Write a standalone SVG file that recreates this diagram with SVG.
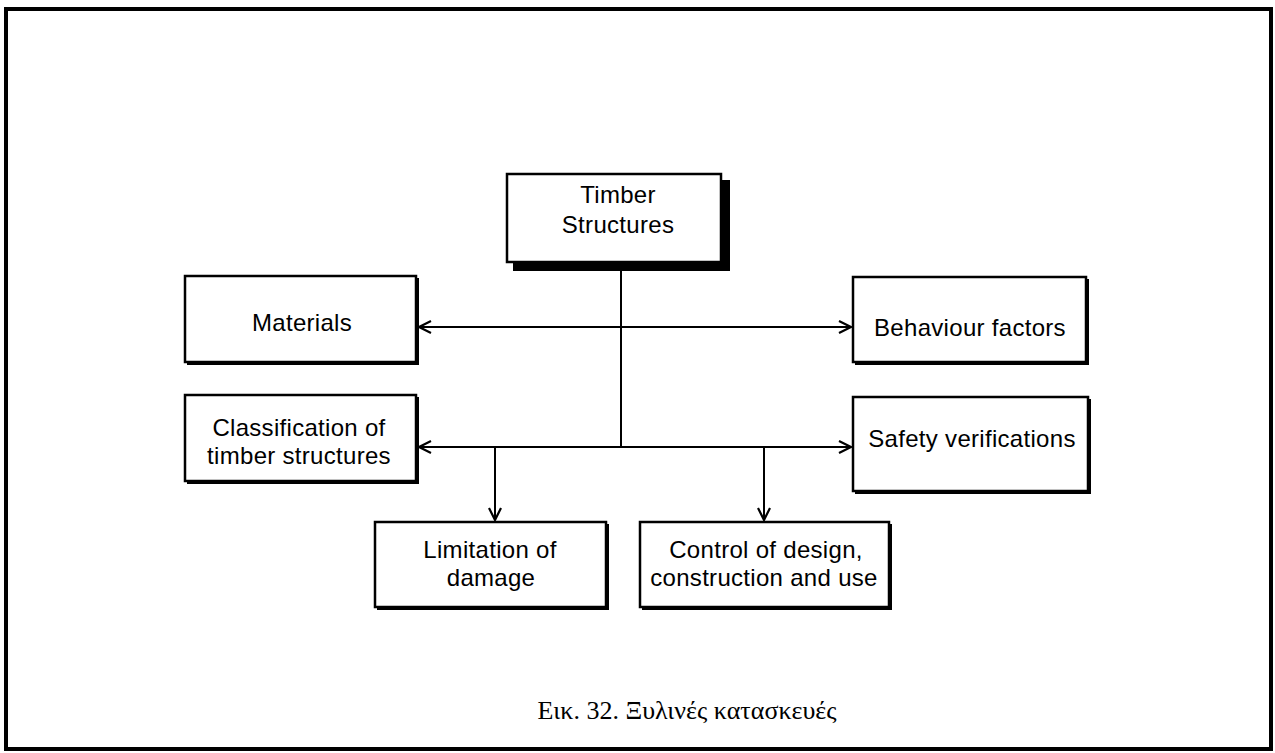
<svg xmlns="http://www.w3.org/2000/svg" width="1275" height="753" viewBox="0 0 1275 753">
  <style>
    .box { fill: #fff; stroke: #000; stroke-width: 2.5; }
    .shadow { fill: #000; }
    .lbl { font-family: "Liberation Sans", Arial, sans-serif; font-size: 24px; fill: #000; text-anchor: middle; letter-spacing: 0.3px; }
    .cap { font-family: "Liberation Serif", "Times New Roman", serif; font-size: 26px; fill: #000; text-anchor: middle; }
    .wire { fill: none; stroke: #000; stroke-width: 2; }
  </style>
  <defs>
    <!-- open V arrowhead; tip sits on the line end -->
    <marker id="vee" viewBox="-2 -8 16 16" refX="12" refY="0" markerWidth="16" markerHeight="16" markerUnits="userSpaceOnUse" orient="auto-start-reverse" overflow="visible">
      <path d="M0,-6 L12,0 L0,6" fill="none" stroke="#000" stroke-width="2.2"/>
    </marker>
  </defs>

  <rect width="1275" height="753" fill="#fff"/>
  <!-- outer frame -->
  <rect x="6" y="9" width="1265" height="740" fill="none" stroke="#000" stroke-width="4"/>

  <!-- connectors -->
  <g id="connectors">
    <line class="wire" x1="621" y1="268" x2="621" y2="447"/>
    <line class="wire" x1="419" y1="327" x2="851" y2="327" marker-start="url(#vee)" marker-end="url(#vee)"/>
    <line class="wire" x1="419" y1="447" x2="851" y2="447" marker-start="url(#vee)" marker-end="url(#vee)"/>
    <line class="wire" x1="495" y1="447" x2="495" y2="520" marker-end="url(#vee)"/>
    <line class="wire" x1="764" y1="447" x2="764" y2="520" marker-end="url(#vee)"/>
  </g>

  <!-- nodes -->
  <g id="timber">
    <rect class="shadow" x="513" y="180" width="217" height="91"/>
    <rect class="box" x="507" y="174" width="214" height="88" stroke-width="3"/>
    <text class="lbl" x="618" y="203">Timber</text>
    <text class="lbl" x="618" y="233">Structures</text>
  </g>

  <g id="materials">
    <rect class="shadow" x="187" y="278" width="232" height="87"/>
    <rect class="box" x="185" y="276" width="231" height="86"/>
    <text class="lbl" x="302" y="331">Materials</text>
  </g>

  <g id="behaviour">
    <rect class="shadow" x="855" y="279" width="234" height="86"/>
    <rect class="box" x="853" y="277" width="233" height="85"/>
    <text class="lbl" x="970" y="336">Behaviour factors</text>
  </g>

  <g id="classification">
    <rect class="shadow" x="187" y="397" width="232" height="87"/>
    <rect class="box" x="185" y="395" width="231" height="86"/>
    <text class="lbl" x="299" y="436">Classification of</text>
    <text class="lbl" x="299" y="464">timber structures</text>
  </g>

  <g id="safety">
    <rect class="shadow" x="855" y="399" width="236" height="95"/>
    <rect class="box" x="853" y="397" width="235" height="94"/>
    <text class="lbl" x="972" y="447">Safety verifications</text>
  </g>

  <g id="limitation">
    <rect class="shadow" x="377" y="524" width="232" height="86"/>
    <rect class="box" x="375" y="522" width="231" height="85"/>
    <text class="lbl" x="490" y="558">Limitation of</text>
    <text class="lbl" x="491" y="586">damage</text>
  </g>

  <g id="control">
    <rect class="shadow" x="642" y="524" width="250" height="86"/>
    <rect class="box" x="640" y="522" width="249" height="85"/>
    <text class="lbl" x="766" y="558">Control of design,</text>
    <text class="lbl" x="764" y="586">construction and use</text>
  </g>

  <!-- caption -->
  <text class="cap" x="687" y="719">Εικ. 32. Ξυλινές κατασκευές</text>
</svg>
